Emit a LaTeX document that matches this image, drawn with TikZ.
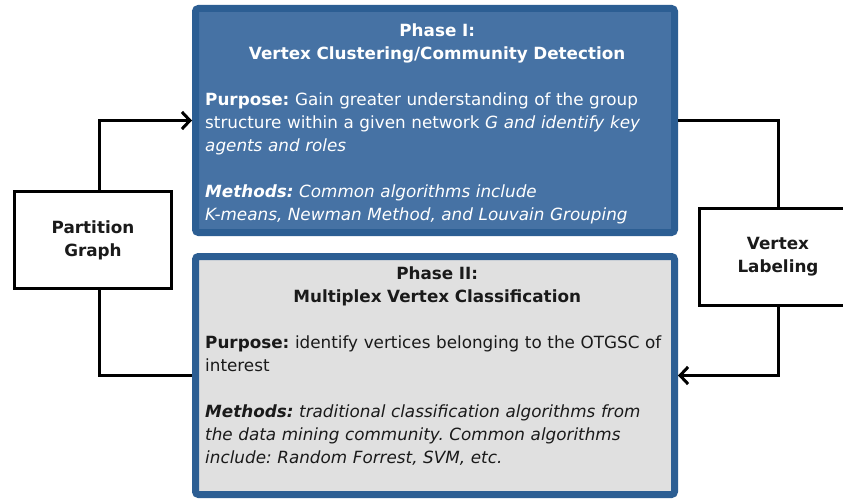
\documentclass[tikz,border=0pt]{standalone}
\usepackage{fontspec}
\setmainfont{DejaVu Sans}
\usetikzlibrary{arrows.meta,shadows}
\definecolor{pborder}{HTML}{2C5E93}
\definecolor{ponefill}{HTML}{4672A4}
\definecolor{ptwofill}{HTML}{E0E0E0}
\definecolor{txtdark}{HTML}{1A1A1A}
\tikzset{
  phasebox/.style={draw=pborder, line width=7pt, rounded corners=3pt, inner sep=0pt,
    minimum width=479pt, drop shadow={shadow xshift=1.5pt, shadow yshift=-1.5pt, opacity=0.25}},
  sidebox/.style={draw=black, line width=3pt, fill=white, inner sep=0pt,
    minimum width=157pt, minimum height=97pt, align=center,
    font=\fontsize{16.8}{23}\selectfont\bfseries, text=txtdark,
    drop shadow={shadow xshift=1.5pt, shadow yshift=-1.5pt, opacity=0.25}},
  txt/.style={inner sep=0pt, text width=464pt, anchor=north west,
    font=\fontsize{16.8}{23}\selectfont\frenchspacing},
  conn/.style={draw=black, line width=3pt},
  tip/.style={-{Straight Barb[length=8pt,width=17pt,line width=3pt]}}
}
\begin{document}
\begin{tikzpicture}[x=1pt,y=-1pt]
\clip (0,0) rectangle (843,500);
\fill[white] (0,0) rectangle (843,500);

\node[phasebox, fill=ponefill, minimum height=224pt] (p1) at (435,120.5) {};
\node[phasebox, fill=ptwofill, minimum height=238pt] (p2) at (435,375.5) {};

\node[txt, text=white] (p1text) at (205,23.5) {%
{\centering\bfseries Phase I:\\ Vertex Clustering/Community Detection\par}
\vspace{23pt}
\raggedright\textbf{Purpose:} Gain greater understanding of the group\\
structure within a given network \textit{G and identify key}\\
\textit{agents and roles}\par
\vspace{23pt}
\textbf{\textit{Methods:}} \textit{Common algorithms include}\\
\textit{K-means, Newman Method, and Louvain Grouping}\par};

\node[txt, text=txtdark] (p2text) at (205,266.5) {%
{\centering\bfseries Phase II:\\ Multiplex Vertex Classification\par}
\vspace{23pt}
\raggedright\textbf{Purpose:} identify vertices belonging to the OTGSC of\\
interest\par
\vspace{23pt}
\textbf{\textit{Methods:}} \textit{traditional classification algorithms from}\\
\textit{the data mining community. Common algorithms}\\
\textit{include: Random Forrest, SVM, etc.}\par};

\node[sidebox] (pg) at (93,240) {Partition\\Graph};
\node[sidebox] (vl) at (778,257) {Vertex\\Labeling};

\draw[conn, tip] ([xshift=6pt]pg.north) |- (p1.west);
\draw[conn] ([xshift=6pt]pg.south) |- (p2.west);
\draw[conn] (p1.east) -| (vl.north);
\draw[conn, tip] (vl.south) |- (p2.east);
\end{tikzpicture}
\end{document}
